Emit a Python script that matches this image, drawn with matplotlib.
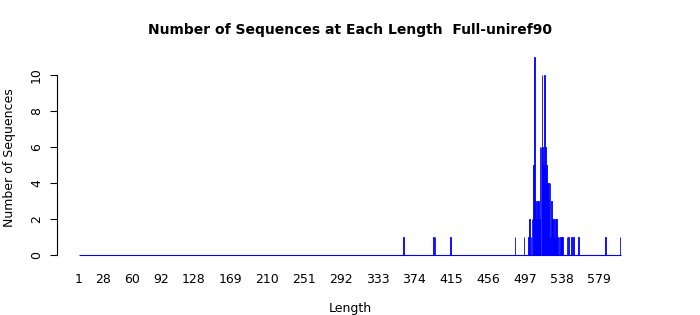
import numpy as np
import matplotlib
matplotlib.use("Agg")
import matplotlib.pyplot as plt

# Sequence lengths that occur and how many sequences have them
lengths = [362, 395, 397, 414, 486, 496, 501, 502, 504, 505, 506, 507, 508,
           509, 510, 511, 512, 513, 514, 515, 516, 517, 518, 519, 520, 521,
           522, 523, 524, 525, 526, 527, 528, 529, 530, 531, 532, 533, 535,
           537, 538, 539, 544, 546, 549, 551, 557, 587, 603]
counts = [1, 1, 1, 1, 1, 1, 1, 2, 1, 2, 2, 5, 11,
          3, 2, 3, 3, 2, 6, 6, 10, 6, 5, 10, 6, 5,
          4, 4, 3, 4, 1, 3, 2, 2, 1, 2, 2, 1, 1,
          1, 1, 1, 1, 1, 1, 1, 1, 1, 1]
max_length = 603
tick_labels = [1, 28, 60, 92, 128, 169, 210, 251, 292, 333, 374, 415, 456, 497, 538, 579]

# every length from 1 to max gets a bar, most of them empty
all_lengths = np.arange(1, max_length + 1)
all_counts = np.zeros(max_length)
for l, c in zip(lengths, counts):
    all_counts[l - 1] = c

fig = plt.figure(figsize=(7, 3.15), dpi=100)
ax = fig.add_axes([0.0814, 0.165, 0.836, 0.679])

ax.bar(all_lengths, all_counts, width=0.83, color="blue",
       edgecolor="blue", linewidth=0.6)
# borders of the empty bars form a solid blue base line
ax.hlines(0, all_lengths[0] - 0.5, all_lengths[-1] + 0.5, color="blue", linewidth=0.8)

span = max_length
ax.set_xlim(0.5 - 0.04 * span, max_length + 0.5 + 0.04 * span)
ax.set_ylim(-0.44, 11.44)

ax.set_xticks(tick_labels)
ax.set_xticklabels([str(t) for t in tick_labels], fontsize=9)
ax.set_yticks(range(0, 11, 2))
ax.set_yticklabels([str(t) for t in range(0, 11, 2)], fontsize=9,
                   rotation=90, va="center")
ax.tick_params(axis="x", length=0, pad=7)
ax.tick_params(axis="y", length=5, pad=5, width=0.8)

for side in ["top", "right", "bottom"]:
    ax.spines[side].set_visible(False)
ax.spines["left"].set_bounds(0, 10)
ax.spines["left"].set_linewidth(0.8)

fig.text(0.5, 0.905, "Number of Sequences at Each Length  Full-uniref90",
         ha="center", va="center", fontsize=10, fontweight="bold")
fig.text(0.5, 0.022, "Length", ha="center", va="center", fontsize=9)
fig.text(0.013, 0.50, "Number of Sequences", ha="center", va="center",
         rotation=90, fontsize=9)

fig.savefig("out.png", dpi=100)
